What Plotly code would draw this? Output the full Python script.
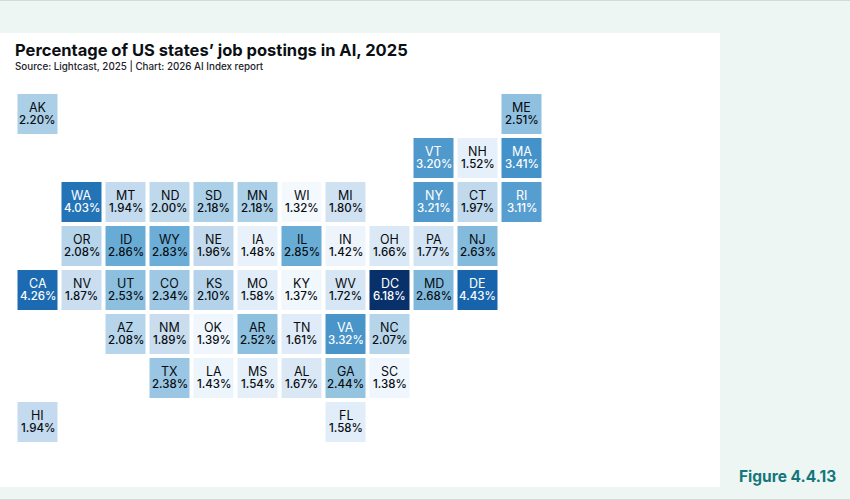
import plotly.graph_objects as go

# State tile grid: each row lists the postal codes by column, "" for an empty tile
grid = [
    ["AK", "", "", "", "", "", "", "", "", "", "", "ME"],
    ["", "", "", "", "", "", "", "", "", "VT", "NH", "MA"],
    ["", "WA", "MT", "ND", "SD", "MN", "WI", "MI", "", "NY", "CT", "RI"],
    ["", "OR", "ID", "WY", "NE", "IA", "IL", "IN", "OH", "PA", "NJ", ""],
    ["CA", "NV", "UT", "CO", "KS", "MO", "KY", "WV", "DC", "MD", "DE", ""],
    ["", "", "AZ", "NM", "OK", "AR", "TN", "VA", "NC", "", "", ""],
    ["", "", "", "TX", "LA", "MS", "AL", "GA", "SC", "", "", ""],
    ["HI", "", "", "", "", "", "", "FL", "", "", "", ""],
]

# Share of job postings in AI, percent
states = ["AK", "ME", "VT", "NH", "MA", "WA", "MT", "ND", "SD", "MN", "WI", "MI", "NY", "CT", "RI",
          "OR", "ID", "WY", "NE", "IA", "IL", "IN", "OH", "PA", "NJ",
          "CA", "NV", "UT", "CO", "KS", "MO", "KY", "WV", "DC", "MD", "DE",
          "AZ", "NM", "OK", "AR", "TN", "VA", "NC", "TX", "LA", "MS", "AL", "GA", "SC", "HI", "FL"]
values = [2.20, 2.51, 3.20, 1.52, 3.41, 4.03, 1.94, 2.00, 2.18, 2.18, 1.32, 1.80, 3.21, 1.97, 3.11,
          2.08, 2.86, 2.83, 1.96, 1.48, 2.85, 1.42, 1.66, 1.77, 2.63,
          4.26, 1.87, 2.53, 2.34, 2.10, 1.58, 1.37, 1.72, 6.18, 2.68, 4.43,
          2.08, 1.89, 1.39, 2.52, 1.61, 3.32, 2.07, 2.38, 1.43, 1.54, 1.67, 2.44, 1.38, 1.94, 1.58]

title = "Percentage of US states’ job postings in AI, 2025"
subtitle = "Source: Lightcast, 2025 | Chart: 2026 AI Index report"
figure_label = "Figure 4.4.13"

lookup = dict(zip(states, values))
z = [[lookup.get(code) for code in row] for row in grid]

ZMIN, ZMAX = 1.32, 6.18
stops = [(1.32, "#F4F9FE"), (1.6, "#E0ECF8"), (1.9, "#C8DCEF"), (2.2, "#AACFE7"), (2.68, "#80B8DB"),
         (2.85, "#69ADD6"), (3.2, "#5099CC"), (3.41, "#4392C9"), (4.03, "#2373B7"), (4.43, "#1764AD"),
         (6.18, "#08306B")]
colorscale = [[(v - ZMIN) / (ZMAX - ZMIN), c] for v, c in stops]

W, H = 850, 500

fig = go.Figure(go.Heatmap(
    z=z, zmin=ZMIN, zmax=ZMAX, colorscale=colorscale, showscale=False,
    xgap=4, ygap=4, hoverongaps=False,
))

font = "Inter, sans-serif"
ink = "#080C10"

# Two lines per tile: postal code above the percentage, in boxes that just touch
for r, row in enumerate(grid):
    for c, code in enumerate(row):
        if not code:
            continue
        colour = "#FFFFFF" if lookup[code] >= 3 else ink
        fig.add_annotation(x=c, y=r, text=code, showarrow=False, yshift=6, height=11.5, borderpad=0,
                           font=dict(family=font, size=12.5, color=colour))
        fig.add_annotation(x=c, y=r, text=f"{lookup[code]:.2f}%", showarrow=False, yshift=-6, height=11.5,
                           borderpad=0, font=dict(family=font, size=11.5, weight=500, color=colour))

def px(v):
    return v / W
def py(v):
    return 1 - v / H

# Page furniture: white panel and hairlines along the top and bottom edges
fig.add_shape(type="rect", xref="paper", yref="paper", layer="below",
              x0=0, x1=px(720), y0=py(487), y1=py(33), fillcolor="#FFFFFF", line_width=0)
fig.add_shape(type="rect", xref="paper", yref="paper", layer="below",
              x0=0, x1=1, y0=py(1), y1=1, fillcolor="#CFDCD9", line_width=0)
fig.add_shape(type="rect", xref="paper", yref="paper", layer="below",
              x0=0, x1=1, y0=0, y1=py(499), fillcolor="#CFDCD9", line_width=0)

fig.add_annotation(xref="paper", yref="paper", x=px(13), y=py(50), xanchor="left", yanchor="middle",
                   text=title, showarrow=False, font=dict(family=font, size=16.5, weight=700, color="#0B0F14"))
fig.add_annotation(xref="paper", yref="paper", x=px(13), y=py(66), xanchor="left", yanchor="middle",
                   text=subtitle, showarrow=False, font=dict(family=font, size=9.8, weight=500, color="#1C232A"))
fig.add_annotation(xref="paper", yref="paper", x=px(838), y=py(476), xanchor="right", yanchor="middle",
                   text=figure_label, showarrow=False, font=dict(family=font, size=15.5, weight=700, color="#14767A"))

fig.update_layout(
    width=W, height=H, autosize=False,
    margin=dict(l=0, r=0, t=0, b=0, pad=0),
    paper_bgcolor="#EDF6F3", plot_bgcolor="rgba(0,0,0,0)",
    xaxis=dict(visible=False, range=[-0.5, 11.5], fixedrange=True, domain=[px(15.5), px(543.5)]),
    yaxis=dict(visible=False, range=[7.5, -0.5], fixedrange=True, domain=[py(444), py(92)]),
)

fig.write_html("out.html", config={"displayModeBar": False})
